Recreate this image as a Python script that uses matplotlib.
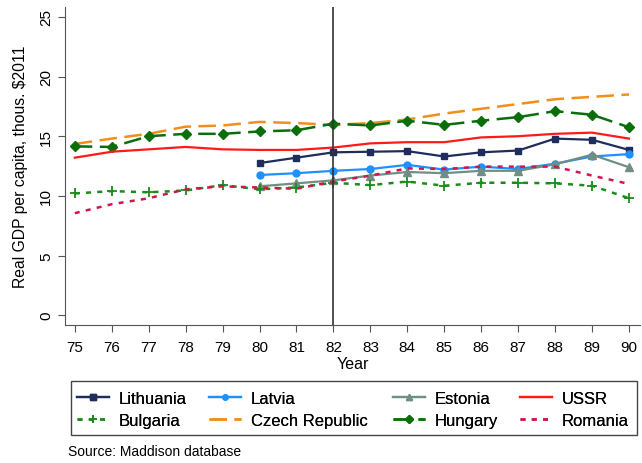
import numpy as np
import matplotlib.pyplot as plt
from matplotlib.patches import Rectangle

plt.rcParams['font.family'] = ['Liberation Sans', 'DejaVu Sans']

years = list(range(75, 91))
years_baltic = list(range(80, 91))

lithuania = [12.75, 13.2, 13.65, 13.7, 13.75, 13.3, 13.65, 13.8, 14.8, 14.7, 13.85]
latvia = [11.75, 11.9, 12.1, 12.25, 12.6, 12.2, 12.45, 12.25, 12.7, 13.3, 13.5]
estonia = [10.8, 11.05, 11.3, 11.7, 12.0, 11.9, 12.1, 12.1, 12.65, 13.45, 12.4]
ussr = [13.2, 13.7, 13.9, 14.1, 13.9, 13.85, 13.85, 14.05, 14.4, 14.5, 14.5, 14.9, 15.0, 15.2, 15.3, 14.8]
bulgaria = [10.2, 10.4, 10.3, 10.45, 10.9, 10.55, 10.7, 11.1, 10.9, 11.2, 10.85, 11.1, 11.1, 11.05, 10.85, 9.8]
czech = [14.35, 14.8, 15.2, 15.8, 15.9, 16.2, 16.1, 15.95, 16.1, 16.4, 16.9, 17.3, 17.7, 18.1, 18.3, 18.5]
hungary = [14.15, 14.1, 15.0, 15.2, 15.2, 15.4, 15.5, 16.05, 15.9, 16.3, 15.95, 16.3, 16.6, 17.1, 16.8, 15.75]
romania = [8.55, 9.3, 9.8, 10.55, 10.8, 10.7, 10.6, 11.2, 11.7, 12.3, 12.25, 12.45, 12.45, 12.45, 11.7, 11.0]

W, H = 642, 464
fig = plt.figure(figsize=(W / 100, H / 100), dpi=100)
ax = fig.add_axes([0.101, 0.297, 0.896, 0.686])

# draw lines
h_cz, = ax.plot(years, czech, color='#f28e1c', lw=1.8, dashes=(7, 3), label='Czech Republic')
h_hu, = ax.plot(years, hungary, color='#0a6e0a', lw=1.8, dashes=(7, 3), marker='D', ms=5, label='Hungary')
h_us, = ax.plot(years, ussr, color='#ff1a1a', lw=1.6, label='USSR')
h_lt, = ax.plot(years_baltic, lithuania, color='#1f2d5c', lw=1.6, marker='s', ms=5, label='Lithuania')
h_lv, = ax.plot(years_baltic, latvia, color='#1e90ff', lw=1.6, marker='o', ms=5, label='Latvia')
h_ee, = ax.plot(years_baltic, estonia, color='#6f8f85', lw=1.6, marker='^', ms=5.5, label='Estonia')
h_bg, = ax.plot(years, bulgaria, color='#1a8c1a', lw=1.8, dashes=(2, 2.5), marker='+', ms=7, mew=1.3, label='Bulgaria')
h_ro, = ax.plot(years, romania, color='#d1164f', lw=1.8, dashes=(2, 2.5), label='Romania')

ax.axvline(82, color='#333333', lw=1.2)

ax.set_xlim(74.73, 90.3)
ax.set_ylim(-0.84, 25.84)
ax.set_xticks(years)
ax.set_xticklabels([str(y) for y in years])
ax.set_yticks([0, 5, 10, 15, 20, 25])
ax.set_yticklabels(['0', '5', '10', '15', '20', '25'], rotation=90, va='center')
ax.tick_params(labelsize=11, direction='out', length=5, color='#555555')
ax.tick_params(axis='x', pad=6)
ax.spines['top'].set_visible(False)
ax.spines['right'].set_visible(False)
ax.spines['left'].set_color('#555555')
ax.spines['bottom'].set_color('#555555')
ax.set_xlabel('Year', fontsize=11.5, labelpad=1)
ax.set_ylabel('Real GDP per capita, thous. $2011', fontsize=11.3, labelpad=8)

# legend: one small legend per column inside a common frame
columns = [(77, [h_lt, h_bg]), (209, [h_lv, h_cz]), (393, [h_ee, h_hu]), (520, [h_us, h_ro])]
for x_px, hs in columns:
    leg = fig.legend(handles=hs, labels=[h.get_label() for h in hs], ncol=1,
                     loc='center left', bbox_to_anchor=(x_px / W, 1 - 410.5 / H),
                     fontsize=12, frameon=False, handlelength=1.9, markerscale=0.75,
                     borderpad=0, borderaxespad=0, handletextpad=0.6, labelspacing=0.4)
    fig.add_artist(leg)

fig.add_artist(Rectangle((71 / W, 1 - 436 / H), 566 / W, 54 / H, transform=fig.transFigure,
                         fill=False, edgecolor='#444444', lw=1.0))

fig.text(68 / W, 1 - 452 / H, 'Source: Maddison database', fontsize=10, va='center')

fig.savefig('out.png', dpi=100)
